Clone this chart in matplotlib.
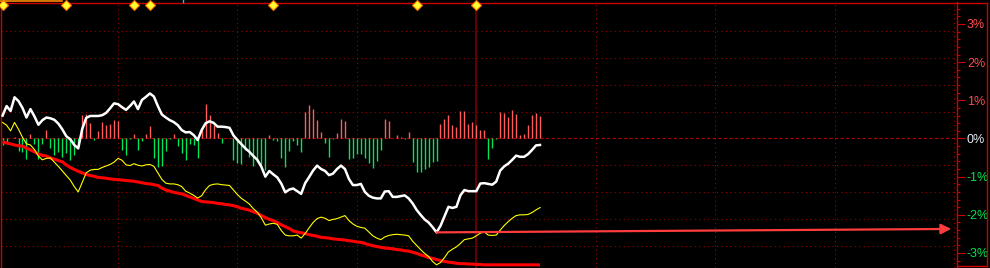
import numpy as np
import matplotlib
matplotlib.use("Agg")
import matplotlib.pyplot as plt
import matplotlib.transforms as mtransforms
from matplotlib.lines import Line2D
from matplotlib.ticker import MultipleLocator

# ---------------- data (intraday minute index, percent change) ----------------
minutes = np.arange(1, 137)

price_pct = [
    0.60, 0.85, 0.72, 1.08, 0.98, 0.80, 0.55, 0.77, 0.58, 0.36,
    0.48, 0.55, 0.53, 0.49, 0.39, 0.24, 0.06, -0.02, -0.17, -0.26,
    0.25, 0.54, 0.59, 0.59, 0.59, 0.61, 0.67, 0.79, 0.92, 0.90,
    0.82, 0.75, 0.85, 0.97, 0.77, 1.01, 1.09, 1.18, 1.10, 0.85,
    0.63, 0.55, 0.48, 0.43, 0.35, 0.22, 0.16, 0.17, 0.09, -0.04,
    0.22, 0.40, 0.45, 0.41, 0.31, 0.31, 0.30, 0.28, 0.08, -0.04,
    -0.15, -0.26, -0.35, -0.46, -0.56, -0.74, -1.00, -0.85, -0.94, -1.02,
    -1.18, -1.41, -1.34, -1.31, -1.38, -1.45, -1.17, -1.01, -0.84, -0.71,
    -0.80, -0.85, -0.96, -0.92, -0.80, -0.71, -0.80, -1.06, -1.22, -1.22,
    -1.19, -1.40, -1.50, -1.55, -1.57, -1.57, -1.39, -1.38, -1.53, -1.53,
    -1.51, -1.49, -1.57, -1.70, -1.87, -2.00, -2.12, -2.20, -2.32, -2.46,
    -2.29, -2.04, -1.79, -1.82, -1.79, -1.49, -1.35, -1.38, -1.38, -1.38,
    -1.18, -1.17, -1.19, -1.21, -1.13, -0.84, -0.73, -0.66, -0.56, -0.45,
    -0.48, -0.48, -0.41, -0.30, -0.18, -0.17,
]

yellow_pct = [
    0.42, 0.35, 0.20, 0.42, 0.24, 0.03, -0.14, -0.17, -0.29, -0.46,
    -0.56, -0.52, -0.51, -0.62, -0.73, -0.85, -0.97, -1.09, -1.26, -1.40,
    -1.15, -0.90, -0.83, -0.81, -0.81, -0.76, -0.72, -0.68, -0.62, -0.52,
    -0.57, -0.69, -0.71, -0.66, -0.70, -0.72, -0.69, -0.68, -0.73, -0.90,
    -1.07, -1.17, -1.19, -1.19, -1.21, -1.26, -1.38, -1.43, -1.49, -1.56,
    -1.50, -1.34, -1.23, -1.20, -1.19, -1.21, -1.22, -1.23, -1.35, -1.47,
    -1.57, -1.64, -1.72, -1.84, -1.93, -2.08, -2.27, -2.24, -2.22, -2.25,
    -2.41, -2.53, -2.55, -2.55, -2.53, -2.61, -2.49, -2.34, -2.20, -2.10,
    -2.06, -2.09, -2.15, -2.12, -2.10, -2.06, -2.02, -2.15, -2.24, -2.30,
    -2.33, -2.35, -2.45, -2.55, -2.61, -2.65, -2.58, -2.54, -2.52, -2.51,
    -2.52, -2.53, -2.55, -2.69, -2.80, -2.91, -3.01, -3.09, -3.22, -3.31,
    -3.25, -3.12, -2.97, -2.90, -2.84, -2.75, -2.65, -2.63, -2.61, -2.55,
    -2.48, -2.45, -2.53, -2.54, -2.53, -2.40, -2.28, -2.18, -2.09, -2.02,
    -2.00, -2.00, -1.99, -1.94, -1.87, -1.81,
]

avg_pct = [
    -0.08, -0.12, -0.14, -0.17, -0.19, -0.20, -0.25, -0.30, -0.35, -0.41,
    -0.44, -0.46, -0.51, -0.54, -0.58, -0.61, -0.69, -0.76, -0.81, -0.86,
    -0.90, -0.94, -0.97, -0.99, -1.02, -1.03, -1.04, -1.06, -1.07, -1.08,
    -1.09, -1.10, -1.11, -1.12, -1.14, -1.16, -1.18, -1.19, -1.21, -1.23,
    -1.30, -1.35, -1.38, -1.41, -1.43, -1.45, -1.49, -1.53, -1.57, -1.61,
    -1.65, -1.66, -1.67, -1.68, -1.70, -1.71, -1.73, -1.74, -1.76, -1.79,
    -1.83, -1.85, -1.88, -1.92, -1.96, -2.02, -2.07, -2.12, -2.15, -2.20,
    -2.26, -2.31, -2.36, -2.42, -2.45, -2.47, -2.49, -2.52, -2.54, -2.56,
    -2.59, -2.60, -2.61, -2.63, -2.64, -2.65, -2.66, -2.68, -2.69, -2.71,
    -2.72, -2.75, -2.78, -2.81, -2.83, -2.85, -2.87, -2.88, -2.89, -2.91,
    -2.92, -2.94, -2.95, -2.98, -3.01, -3.05, -3.08, -3.12, -3.14, -3.17,
    -3.20, -3.22, -3.24, -3.25, -3.27, -3.28, -3.28, -3.29, -3.29, -3.30,
    -3.30, -3.31, -3.31, -3.31, -3.31, -3.31, -3.31, -3.31, -3.31, -3.31,
    -3.31, -3.31, -3.31, -3.31, -3.31, -3.31,
]

# indicator bars (arbitrary indicator units, positive = red, negative = green)
bar_vals = [
    -6.5, -3.3, 0, 1.7, -12.5, -14, -21, 4, -6, -21,
    -6, 8.5, -10, -17, -14, -19, -15, -22, -17, -8,
    23, 24, 15.5, -2, 7, 16.5, 13.5, 14, 18, 17,
    -12, -16.5, -1, 4.2, -11.5, -2.5, 4.5, 12.3, -20, -29,
    -28, -13, -1, 4, -7.7, -15, -22, -5.5, -6.5, -19.5,
    9, 34, 23, 13, 5, -4.5, 0, 0, -22, -25,
    -26, -12, -19, -28, -24, -27, -32, 3, -2, -3,
    -20, -28.7, -12.5, -3, -7, -14, 26.2, 33, 29, 18,
    6.2, -4.5, -19, -0.5, 5, 19, 17.2, -21, -19.5, -15.5,
    -15.5, -19.5, -25, -29.3, -22.5, -12, 19, 17, 0, 3.8,
    1.3, -0.5, 6, -24, -33.5, -33.3, -31, -28.7, -23.3, -23,
    14.2, 19.2, 23.2, 13.2, 11.6, 27.2, 27.2, 14.2, 16.2, 13.3,
    8.3, 8.3, -21, -10, -0.5, 26.8, 25.8, 21.2, 28.2, 24,
    3.3, 4.5, 13.2, 23.2, 25, 22.9,
]

marker_minutes = [1, 17, 34, 38, 69, 105, 120]
ytick_vals = [3, 2, 1, 0, -1, -2, -3]
ytick_labels = ["3%", "2%", "1%", "0%", "-1%", "-2%", "-3%"]
arrow_end = (239.3, -2.37)

# ---------------- style ----------------
W, H = 990, 268
BG = "black"
GRID = "#990000"
BORDER = "#cc0000"
BAR_SCALE = 0.0262      # percent per indicator unit
GRID_STEP = 0.705

plt.rcParams["font.family"] = ["Liberation Sans", "DejaVu Sans"]

fig = plt.figure(figsize=(W / 100, H / 100), dpi=100, facecolor=BG)
ax = fig.add_axes([1 / W, 0, (956.7 - 1) / W, (H - 2.5) / H])
ax.set_facecolor(BG)
ax.set_xlim(0.6, 240.67)
ax.set_ylim(-3.393, 3.563)

# grid
for k in range(1, 5):
    for v in (k * GRID_STEP, -k * GRID_STEP):
        ax.axhline(v, color=GRID, lw=0.8, ls=(0, (1, 3)), zorder=1)
for m in (30, 60, 90, 150, 180, 210, 240):
    ax.axvline(m, color=GRID, lw=0.8, ls=(0, (1, 3)), zorder=1)
ax.axvline(120, color="#7a0000", lw=1.2, zorder=1)
ax.axhline(0, color="#b00000", lw=0.8, ls=(0, (3, 2)), zorder=1)

# bars
bv = np.array(bar_vals)
pos = bv > 0
neg = bv < 0
ax.vlines(minutes[pos], 0, bv[pos] * BAR_SCALE, colors="#ff5c5c", lw=1.0, zorder=2)
ax.vlines(minutes[neg], 0, bv[neg] * BAR_SCALE, colors="#00e65c", lw=1.0, zorder=2)

# lines
ax.plot(minutes, avg_pct, color="#ff0000", lw=2.2, zorder=3, solid_capstyle="butt")
ax.plot(minutes, yellow_pct, color="#ffff00", lw=0.8, zorder=4)
ax.plot(minutes, price_pct, color="#ffffff", lw=1.8, zorder=5)

# arrow from price low to end of session
imin = int(np.argmin(price_pct))
ax.annotate("", xy=arrow_end, xytext=(minutes[imin], price_pct[imin]),
            arrowprops=dict(arrowstyle="-|>,head_length=0.6,head_width=0.3",
                            color="#ff3c3c", lw=1.6, shrinkA=0, shrinkB=0),
            zorder=6)

# event diamonds at top
trans = mtransforms.blended_transform_factory(ax.transData, ax.transAxes)
ax.plot(marker_minutes, [0.989] * len(marker_minutes), transform=trans, ls="none",
        marker="D", ms=5.5, mfc="#ffff30", mec="#ff7000", mew=0.8, clip_on=False, zorder=7)

# spines
for side in ("left", "top", "right"):
    ax.spines[side].set_color(BORDER)
    ax.spines[side].set_linewidth(1.0)
ax.spines["bottom"].set_visible(False)

# right axis
ax.xaxis.set_visible(False)
ax.yaxis.tick_right()
ax.set_yticks(ytick_vals)
ax.set_yticklabels(ytick_labels)
ax.yaxis.set_minor_locator(MultipleLocator(0.2))
ax.tick_params(axis="y", which="major", direction="out", length=5.8, width=0.8,
               color=BORDER, pad=1.5, labelsize=9)
ax.tick_params(axis="y", which="minor", direction="out", length=2.5, width=0.8,
               color=BORDER)
for lbl, v in zip(ax.get_yticklabels(), ytick_vals):
    if v > 0:
        lbl.set_color("#ff4c4c")
    elif v < 0:
        lbl.set_color("#00e050")
    else:
        lbl.set_color("#e8eef8")

# outer frame decorations
def fline(x0, x1, y0, y1, color, lw):
    fig.add_artist(Line2D([x0 / W, x1 / W], [1 - y0 / H, 1 - y1 / H], color=color, lw=lw))

fline(956.7, 987, 2.5, 2.5, BORDER, 1.0)
fline(986.5, 986.5, 2.5, 266, BORDER, 1.0)
fline(956.7, 986.5, 266, 266, BORDER, 1.0)
fline(0, 62, 0.6, 0.6, "#ff8c00", 1.2)
fline(183, 183, 0, 1.5, "#00c8ff", 1.0)

fig.savefig("out.png", dpi=100, facecolor=BG)
